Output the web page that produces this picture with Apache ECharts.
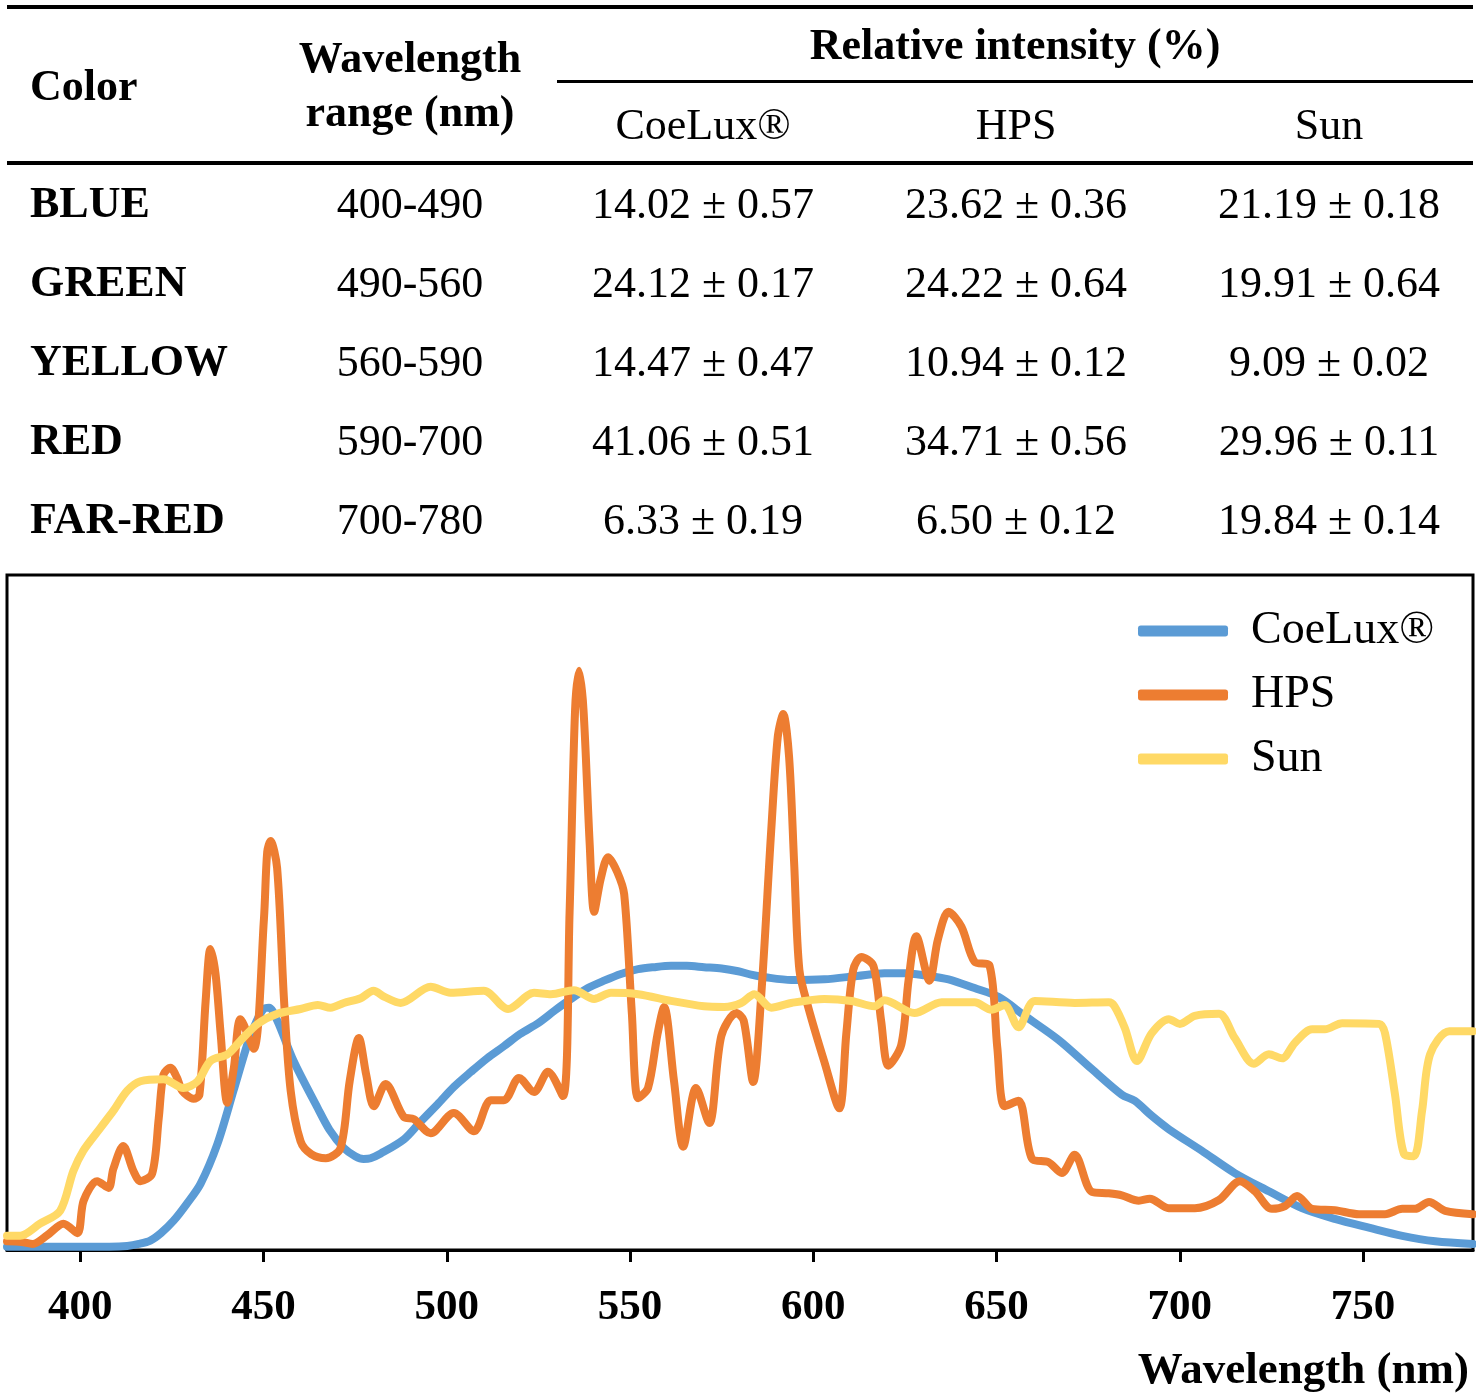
<!DOCTYPE html>
<html>
<head>
<meta charset="utf-8">
<script src="https://cdn.jsdelivr.net/npm/echarts@6/dist/echarts.min.js"></script>
<style>
  html, body { margin: 0; padding: 0; background: #fff; }
  #main { width: 1476px; height: 1399px; }
</style>
</head>
<body>
<div id="main"></div>
<script>
// table data
var rowColors = ['BLUE', 'GREEN', 'YELLOW', 'RED', 'FAR-RED'];
var rowRanges = ['400-490', '490-560', '560-590', '590-700', '700-780'];
var lampNames = ['CoeLux®', 'HPS', 'Sun'];
var coeluxMean = [14.02, 24.12, 14.47, 41.06, 6.33];
var coeluxSd   = [0.57, 0.17, 0.47, 0.51, 0.19];
var hpsMean    = [23.62, 24.22, 10.94, 34.71, 6.50];
var hpsSd      = [0.36, 0.64, 0.12, 0.56, 0.12];
var sunMean    = [21.19, 19.91, 9.09, 29.96, 19.84];
var sunSd      = [0.18, 0.64, 0.02, 0.11, 0.14];

// spectra: [wavelength nm, relative height]
var coeluxSpec = [
  [380,0.5],[390,0.5],[400,0.5],[408,0.5],[412.8,0.6],[416,0.9],[419.1,1.4],[422,2.5],[425.4,4.3],
  [429,6.8],[432.8,9.8],[437.4,15.7],[441.8,23.6],[445.6,30.5],[448,33.8],[450,35.7],[451.5,35.9],
  [453.8,33.9],[458.2,28],[464.8,21],[468,17.8],[471.9,15.1],[475,13.9],[477.3,13.5],[479.2,13.6],
  [482,14.3],[488.3,16.4],[492.5,18.8],[497.5,21.6],[502,24.2],[506.6,26.4],[511,28.4],[515.6,30.2],
  [520,32],[524.9,33.6],[529.5,35.5],[533.9,37.2],[538.5,38.8],[542.9,39.9],[547.5,40.9],[552.2,41.6],
  [556.5,41.9],[561.2,42.1],[565.5,42.1],[570.2,41.9],[575,41.7],[579.5,41.3],[583,40.8],[587,40.4],
  [594,40],[603,40.1],[612,40.6],[619.4,41],[625,41],[630.3,40.7],[636.9,40.1],[644,38.8],[650.5,37.5],
  [657.7,34.7],[667,31.1],[676,26.8],[684.2,23],[687.7,22.1],[692.3,19.9],[697,17.9],[706,14.7],
  [715,11.4],[724.3,8.7],[733.3,6.2],[742.3,4.6],[751.6,3.3],[760.7,2.1],[769.7,1.3],[780,0.9]
];
var hpsSpec = [
  [380,1.3],[384,1.2],[387,0.9],[391,2.2],[395.4,3.9],[399.2,2.5],[400.9,7.3],[404.6,10.2],[407.7,9.2],
  [409,12],[411.7,15.4],[414.5,11.7],[416.4,10.2],[419.6,11.3],[421.4,19.5],[422.7,26],[424.6,27],
  [426.4,25.5],[427.8,23.6],[430.9,22.4],[432.5,23],[434.2,36.9],[435.5,44.6],[436.9,40.9],[438.3,32],
  [440.1,21.8],[441.9,27],[443.7,34.2],[447.3,29.8],[450.1,49],[451,59],[451.9,60.6],[453.7,56.6],
  [455.6,36.9],[457.4,23.6],[460.1,16.1],[463,14.2],[467,13.6],[471,15.1],[473.5,25],[476,31.4],
  [478,26],[480.1,21.3],[483.3,24.6],[488.3,19.7],[491,19.4],[495.6,17.3],[501.9,20.3],[507.4,17.6],
  [512,22.2],[515.6,22.2],[519.7,25.5],[523.8,23.4],[527.6,26.4],[531.7,22.8],[533.5,50],[535,80],
  [536.1,85.8],[537.3,80],[539,60],[540.2,50.1],[542,55],[544,58.2],[546.5,56],[548.4,52.7],
  [550.5,35],[552.2,22.5],[554.9,24],[557.5,32],[559.3,36],[562,25],[564.5,15.3],[568,24],
  [571.6,18.8],[574.9,31.7],[579,35.1],[581,34],[583.6,24.9],[585.8,37.8],[588.5,62],[590.3,76],
  [591.8,79.4],[593.4,73],[594.8,57],[596.2,41.5],[598.6,36],[603,27.9],[607.1,21],[609,32],
  [610.9,41.5],[613.1,43.4],[616.4,42.1],[618.5,34],[620.5,27.3],[624,30.4],[626,40],[628.1,46.5],
  [631.7,39.9],[634,46],[636.9,50.1],[640.4,47.9],[644,42.7],[648.1,42.1],[650.2,30],[652.2,21.3],
  [656,22.1],[659.6,13.6],[664.2,13],[667.8,11.4],[671.3,14.1],[676,8.6],[680.6,8.4],[684.2,8.1],
  [688.8,7.3],[691.8,7.6],[697,6.2],[704.1,6.2],[710.7,7.4],[716.4,10.2],[720.5,8.7],[725.1,6.1],
  [728.7,6.5],[732,8],[736.1,6.1],[742.3,5.9],[748.9,5.3],[756,5.3],[760.7,6.1],[764.2,6.1],
  [768,7.1],[772.4,5.8],[780,5.3]
];
var sunSpec = [
  [380,2.1],[383.6,2.1],[389,3.9],[394.5,5.8],[398.1,11.7],[400.8,14.7],[405.5,18.1],[409,20.6],
  [412.8,23.6],[416.4,25],[422.7,25.3],[428.1,24],[432,25],[435.5,28],[440.2,29],[443.7,31],
  [448.4,33.5],[453.8,35],[460.1,35.7],[464.8,36.3],[468.3,35.9],[471.9,36.6],[476.5,37.3],[480,38.4],
  [483,37.5],[487.4,36.6],[495.6,39],[501,38.1],[510.1,38.4],[516.7,35.7],[523.8,38.1],[528.4,37.9],
  [534.7,38.5],[540.2,37.2],[544.8,38.1],[552.2,37.9],[561.2,36.9],[570.2,36.1],[575.7,36],[580.3,36.6],
  [583.9,37.9],[588.5,35.9],[594,36.6],[603,37.2],[610.4,36.9],[616.7,36.1],[619.4,37],[627.6,35.1],
  [635,36.7],[644,36.7],[648.6,35.6],[652.2,36.3],[656,33],[660.4,36.9],[671.3,36.6],[680.6,36.7],
  [682.2,36.1],[685,32.9],[688.3,28],[692.3,32.1],[697,34.2],[700,33.5],[704.1,34.7],[710.7,35],
  [715,31.4],[720.2,27.6],[724.3,29],[727.9,28.4],[731.4,30.7],[736.1,32.7],[739.6,32.7],[744.3,33.6],
  [754.4,33.5],[756,32.1],[758.7,23.1],[761.2,14.2],[763.9,13.9],[766.1,20.6],[768.3,29],[773.5,32.4],
  [780,32.4]
];
var tickValues = [400, 450, 500, 550, 600, 650, 700, 750];

var FONT = '"Liberation Serif", "Times New Roman", serif';
var colBlue = '#5B9BD5', colOrange = '#ED7D31', colYellow = '#FFD966';

function pm(m, s) { return m.toFixed(2) + ' ± ' + s.toFixed(2); }

// table drawn as graphic elements
var colX = [703, 1016, 1329];
var rowY = [206, 285, 364, 443, 522];
var elems = [];
function txt(x, y, s, bold, align) {
  elems.push({
    type: 'text', x: x, y: y, silent: true,
    style: { text: s, font: (bold ? 'bold ' : '') + '44px ' + FONT, fill: '#000',
             align: align || 'center', verticalAlign: 'middle' }
  });
}
function rule(x1, x2, y, h) {
  elems.push({ type: 'rect', silent: true, shape: { x: x1, y: y, width: x2 - x1, height: h }, style: { fill: '#000' } });
}
rule(7, 1473, 5, 4);
rule(557, 1473, 80, 3);
rule(7, 1473, 161, 4);
txt(1015, 48, 'Relative intensity (%)', true);
txt(30, 89, 'Color', true, 'left');
txt(410, 61, 'Wavelength', true);
txt(410, 115, 'range (nm)', true);
lampNames.forEach(function (n, i) { txt(colX[i], 127, n, false); });
rowColors.forEach(function (c, i) {
  txt(30, rowY[i], c, true, 'left');
  txt(410, rowY[i], rowRanges[i], false);
  txt(colX[0], rowY[i], pm(coeluxMean[i], coeluxSd[i]), false);
  txt(colX[1], rowY[i], pm(hpsMean[i], hpsSd[i]), false);
  txt(colX[2], rowY[i], pm(sunMean[i], sunSd[i]), false);
});

var myChart = echarts.init(document.getElementById('main'));

var option = {
  animation: false,
  backgroundColor: '#fff',
  graphic: elems,
  grid: {
    left: 7, right: 3, top: 575, bottom: 149,
    show: true, borderColor: '#000', borderWidth: 3
  },
  legend: {
    orient: 'vertical',
    left: 1133, top: 603,
    icon: 'roundRect',
    itemWidth: 90, itemHeight: 11, itemGap: 18,
    textStyle: { fontFamily: FONT, fontSize: 46, color: '#000', padding: [0, 0, 0, 18] },
    data: lampNames
  },
  xAxis: {
    type: 'value', min: 380, max: 780,
    name: 'Wavelength (nm)', nameLocation: 'end', nameGap: -4,
    nameTextStyle: { fontFamily: FONT, fontSize: 45, fontWeight: 'bold', color: '#000',
                     align: 'right', verticalAlign: 'top', padding: [99, 0, 0, 0] },
    axisLine: { onZero: false, lineStyle: { color: '#000', width: 3 } },
    axisTick: { customValues: tickValues, length: 12, lineStyle: { color: '#000', width: 3 } },
    axisLabel: { customValues: tickValues, margin: 36, fontFamily: FONT, fontSize: 43, fontWeight: 'bold', color: '#000' },
    splitLine: { show: false }
  },
  yAxis: { type: 'value', min: 0, max: 100, show: false },
  series: [
    { name: lampNames[0], type: 'line', data: coeluxSpec, color: colBlue },
    { name: lampNames[1], type: 'line', data: hpsSpec, color: colOrange },
    { name: lampNames[2], type: 'line', data: sunSpec, color: colYellow }
  ].map(function (s) {
    s.showSymbol = false;
    s.smooth = 0.3;
    s.lineStyle = { width: 8, cap: 'round', join: 'round' };
    return s;
  })
};

myChart.setOption(option);
</script>
</body>
</html>
